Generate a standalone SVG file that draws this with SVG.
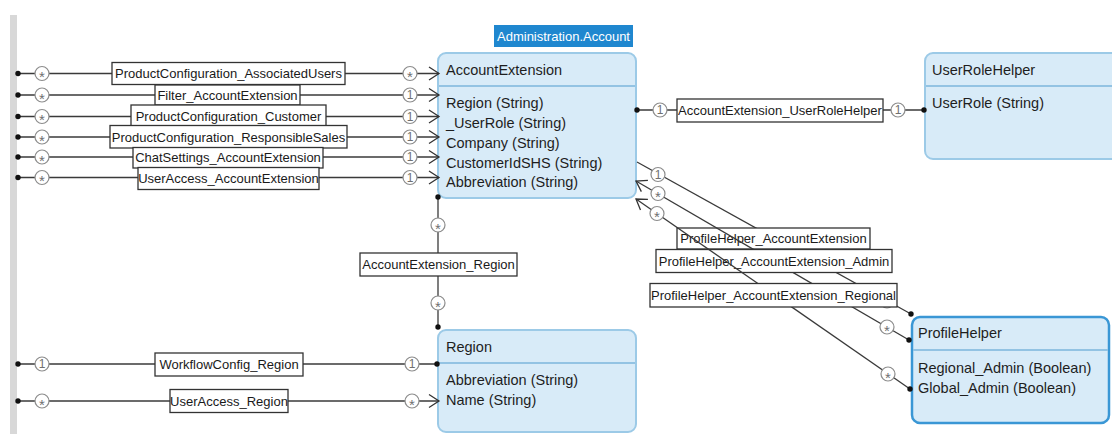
<svg xmlns="http://www.w3.org/2000/svg" xmlns:xlink="http://www.w3.org/1999/xlink" width="1112" height="434" viewBox="0 0 1112 434">
  <style>
    text { font-family: "Liberation Sans", Arial, sans-serif; }
    .entity { fill: #d8ebf8; stroke: #9ccae7; stroke-width: 2; }
    .entity.selected { stroke: #3a97d5; stroke-width: 2.5; }
    .sep { stroke: #93c3e3; stroke-width: 2; }
    .etitle, .eattr { font-size: 14.5px; fill: #1e1e1e; }
    .conn { fill: none; stroke: #3a3a3a; stroke-width: 1.3; }
    .lbox { fill: #ffffff; stroke: #333333; stroke-width: 1.3; }
    .ltext { font-size: 13px; fill: #1a1a1a; text-anchor: middle; }
    .mcirc { fill: #ffffff; stroke: #8c8c8c; stroke-width: 1.2; }
    .mtext { font-size: 12px; fill: #707070; text-anchor: middle; }
    .mstar { font-size: 15px; fill: #707070; text-anchor: middle; }
    .tag { fill: #1f87cf; }
    .tagtext { font-size: 13px; fill: #ffffff; text-anchor: middle; }
  </style>
  <defs>
    <marker id="arrow" markerWidth="14" markerHeight="16" refX="11" refY="8" orient="auto" markerUnits="userSpaceOnUse">
      <path d="M1,1.5 L11,8 L1,14.5" fill="none" stroke="#333" stroke-width="1.3"/>
    </marker>
    <marker id="dot" markerWidth="8" markerHeight="8" refX="4" refY="4" markerUnits="userSpaceOnUse">
      <circle cx="4" cy="4" r="2.7" fill="#111"/>
    </marker>
    <g id="m-many"><circle class="mcirc" r="7"/><text class="mstar" y="8.6">*</text></g>
    <g id="m-one"><circle class="mcirc" r="7"/><text class="mtext" y="4.3">1</text></g>
  </defs>

  <rect width="1112" height="434" fill="#ffffff"/>
  <!-- design surface edge -->
  <rect x="10" y="15" width="7" height="419" fill="#d8d8d8"/>

  <!-- entities -->
  <g id="AccountExtension">
    <rect class="tag" x="494" y="25" width="139" height="22"/>
    <text class="tagtext" x="563.5" y="41">Administration.Account</text>
    <rect class="entity" x="438" y="53" width="198" height="145" rx="8"/>
    <line class="sep" x1="439" y1="86" x2="635" y2="86"/>
    <text class="etitle" x="446" y="75">AccountExtension</text>
    <text class="eattr" x="446" y="108">Region (String)</text>
    <text class="eattr" x="446" y="128">_UserRole (String)</text>
    <text class="eattr" x="446" y="148">Company (String)</text>
    <text class="eattr" x="446" y="167.5">CustomerIdSHS (String)</text>
    <text class="eattr" x="446" y="187">Abbreviation (String)</text>
  </g>

  <g id="UserRoleHelper">
    <rect class="entity" x="925" y="53" width="200" height="106" rx="8"/>
    <line class="sep" x1="926" y1="86" x2="1112" y2="86"/>
    <text class="etitle" x="932" y="75">UserRoleHelper</text>
    <text class="eattr" x="932" y="108">UserRole (String)</text>
  </g>

  <g id="Region">
    <rect class="entity" x="438" y="330" width="198" height="102" rx="8"/>
    <line class="sep" x1="439" y1="363" x2="635" y2="363"/>
    <text class="etitle" x="446" y="352">Region</text>
    <text class="eattr" x="446" y="385">Abbreviation (String)</text>
    <text class="eattr" x="446" y="405">Name (String)</text>
  </g>

  <g id="ProfileHelper">
    <rect class="entity selected" x="912" y="317" width="197" height="106" rx="8"/>
    <line class="sep" x1="913" y1="350" x2="1108" y2="350"/>
    <text class="etitle" x="918" y="338">ProfileHelper</text>
    <text class="eattr" x="918" y="373">Regional_Admin (Boolean)</text>
    <text class="eattr" x="918" y="393">Global_Admin (Boolean)</text>
  </g>

  <!-- associations -->
  <g id="connectors">
    <g id="ProductConfiguration_AssociatedUsers">
      <path class="conn" d="M18,73.5 H439" marker-start="url(#dot)" marker-end="url(#arrow)"/>
      <use href="#m-many" x="42" y="73.5"/>
      <rect class="lbox" x="112" y="62.5" width="233" height="22"/>
      <text class="ltext" x="228.5" y="78">ProductConfiguration_AssociatedUsers</text>
      <use href="#m-many" x="410" y="73.5"/>
    </g>
    <g id="Filter_AccountExtension">
      <path class="conn" d="M18,95 H439" marker-start="url(#dot)" marker-end="url(#arrow)"/>
      <use href="#m-many" x="42" y="95"/>
      <rect class="lbox" x="155" y="85" width="145" height="20"/>
      <text class="ltext" x="227.5" y="99.5">Filter_AccountExtension</text>
      <use href="#m-one" x="410" y="95"/>
    </g>
    <g id="ProductConfiguration_Customer">
      <path class="conn" d="M18,116.5 H439" marker-start="url(#dot)" marker-end="url(#arrow)"/>
      <use href="#m-many" x="42" y="116.5"/>
      <rect class="lbox" x="131" y="105" width="195" height="22"/>
      <text class="ltext" x="228.5" y="121">ProductConfiguration_Customer</text>
      <use href="#m-one" x="410" y="116.5"/>
    </g>
    <g id="ProductConfiguration_ResponsibleSales">
      <path class="conn" d="M18,137 H439" marker-start="url(#dot)" marker-end="url(#arrow)"/>
      <use href="#m-many" x="42" y="137"/>
      <rect class="lbox" x="110" y="125.5" width="237" height="22.5"/>
      <text class="ltext" x="228.5" y="141.5">ProductConfiguration_ResponsibleSales</text>
      <use href="#m-one" x="410" y="137"/>
    </g>
    <g id="ChatSettings_AccountExtension">
      <path class="conn" d="M18,157 H439" marker-start="url(#dot)" marker-end="url(#arrow)"/>
      <use href="#m-many" x="42" y="157"/>
      <rect class="lbox" x="133" y="147.5" width="190" height="20.5"/>
      <text class="ltext" x="228" y="161.5">ChatSettings_AccountExtension</text>
      <use href="#m-one" x="410" y="157"/>
    </g>
    <g id="UserAccess_AccountExtension">
      <path class="conn" d="M18,177.5 H439" marker-start="url(#dot)" marker-end="url(#arrow)"/>
      <use href="#m-many" x="42" y="177.5"/>
      <rect class="lbox" x="138" y="167.5" width="181" height="22"/>
      <text class="ltext" x="228.5" y="182.5">UserAccess_AccountExtension</text>
      <use href="#m-one" x="410" y="177.5"/>
    </g>

    <g id="AccountExtension_UserRoleHelper">
      <path class="conn" d="M637,110 H924" marker-start="url(#dot)" marker-end="url(#dot)"/>
      <use href="#m-one" x="660" y="110"/>
      <rect class="lbox" x="677" y="99" width="206" height="23"/>
      <text class="ltext" x="780" y="115">AccountExtension_UserRoleHelper</text>
      <use href="#m-one" x="898" y="110"/>
    </g>

    <g id="AccountExtension_Region">
      <path class="conn" d="M438,197 V327" marker-start="url(#dot)" marker-end="url(#dot)"/>
      <use href="#m-many" x="438" y="225"/>
      <rect class="lbox" x="360" y="253" width="157" height="23"/>
      <text class="ltext" x="438.5" y="269">AccountExtension_Region</text>
      <use href="#m-many" x="438" y="303"/>
    </g>

    <g id="WorkflowConfig_Region">
      <path class="conn" d="M18,364 H437" marker-start="url(#dot)" marker-end="url(#dot)"/>
      <use href="#m-one" x="42" y="364"/>
      <rect class="lbox" x="155" y="353" width="148" height="23"/>
      <text class="ltext" x="229" y="369">WorkflowConfig_Region</text>
      <use href="#m-one" x="412" y="364"/>
    </g>
    <g id="UserAccess_Region">
      <path class="conn" d="M18,401 H439" marker-start="url(#dot)" marker-end="url(#arrow)"/>
      <use href="#m-many" x="42" y="401"/>
      <rect class="lbox" x="170" y="389.5" width="118" height="23"/>
      <text class="ltext" x="229" y="405.5">UserAccess_Region</text>
      <use href="#m-many" x="412" y="401"/>
    </g>

    <g id="ProfileHelper_AccountExtension">
      <path class="conn" d="M637,162 L911,314" marker-end="url(#dot)"/>
      <use href="#m-one" x="658" y="174.5"/>
      <use href="#m-one" x="887" y="301"/>
      <rect class="lbox" x="677" y="228" width="193" height="21"/>
      <text class="ltext" x="773.5" y="243">ProfileHelper_AccountExtension</text>
    </g>
    <g id="ProfileHelper_AccountExtension_Admin">
      <path class="conn" d="M909,340 L636,181" marker-start="url(#dot)" marker-end="url(#arrow)"/>
      <use href="#m-many" x="658" y="193.5"/>
      <use href="#m-many" x="887" y="327"/>
      <rect class="lbox" x="656" y="249.5" width="236" height="23"/>
      <text class="ltext" x="774" y="265.5">ProfileHelper_AccountExtension_Admin</text>
    </g>
    <g id="ProfileHelper_AccountExtension_Regional">
      <path class="conn" d="M910,389 L636,199" marker-start="url(#dot)" marker-end="url(#arrow)"/>
      <use href="#m-many" x="657" y="213.5"/>
      <use href="#m-many" x="888" y="374"/>
      <rect class="lbox" x="650" y="283.5" width="247" height="23.5"/>
      <text class="ltext" x="773.5" y="300">ProfileHelper_AccountExtension_Regional</text>
    </g>
  </g>
</svg>
